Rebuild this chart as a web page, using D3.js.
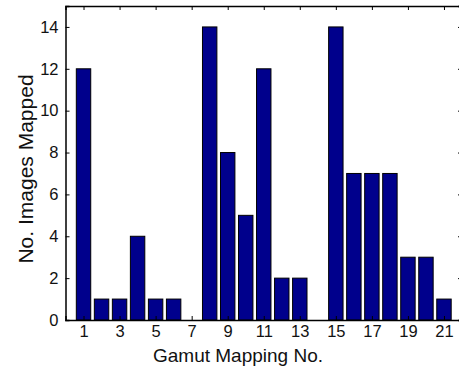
<!DOCTYPE html>
<html lang="en">
<head>
<meta charset="utf-8">
<title>Gamut mapping</title>
<script src="https://cdn.jsdelivr.net/npm/d3@7"></script>
<style>
  body { margin: 0; background: #fff; }
  text { font-family: "Liberation Sans", Arial, sans-serif; fill: #111; }
</style>
</head>
<body>
<div id="chart"></div>
<script>
// data
var mappingNo = d3.range(1, 22);
var imagesMapped = [12, 1, 1, 4, 1, 1, 0, 14, 8, 5, 12, 2, 2, 0, 14, 7, 7, 7, 3, 3, 1];
var xTicks = [1, 3, 5, 7, 9, 11, 13, 15, 17, 19, 21];
var yTicks = [0, 2, 4, 6, 8, 10, 12, 14];

var W = 459, H = 368;
var plot = {left: 65.5, right: 462, top: 6, bottom: 320};

var svg = d3.select("#chart").append("svg")
  .attr("width", W).attr("height", H);

var x = d3.scaleLinear().domain([0, 22]).range([plot.left, plot.right]);
var y = d3.scaleLinear().domain([0, 15]).range([plot.bottom, plot.top]);
var barW = (x(1) - x(0)) * 0.8;

// bars
svg.selectAll("rect.bar")
  .data(imagesMapped)
  .enter().append("rect")
  .attr("class", "bar")
  .attr("x", function(d, i) { return x(mappingNo[i]) - barW / 2; })
  .attr("y", function(d) { return y(d); })
  .attr("width", barW)
  .attr("height", function(d) { return plot.bottom - y(d); })
  .attr("fill", "#00008c")
  .attr("stroke", "#000")
  .attr("stroke-width", 1);

// axes, ticks inward like matlab (box on, right edge falls just off the page)
var xAxis = d3.axisBottom(x).tickValues(xTicks).tickSize(-4).tickPadding(5).tickFormat(d3.format("d"));
var xTop = d3.axisTop(x).tickValues(xTicks).tickSize(-4).tickFormat("");
var yAxis = d3.axisLeft(y).tickValues(yTicks).tickSize(-4).tickPadding(7);
var yRight = d3.axisRight(y).tickValues(yTicks).tickSize(-4).tickFormat("");

var gx = svg.append("g").attr("transform", "translate(0," + plot.bottom + ")").call(xAxis);
var gt = svg.append("g").attr("transform", "translate(0," + plot.top + ")").call(xTop);
var gy = svg.append("g").attr("transform", "translate(" + plot.left + ",0)").call(yAxis);
var gr = svg.append("g").attr("transform", "translate(" + plot.right + ",0)").call(yRight);

[gx, gt, gy, gr].forEach(function(g) {
  g.select(".domain").attr("stroke", "#000").attr("stroke-width", 1.5);
  g.selectAll(".tick line").attr("stroke", "#000");
  g.selectAll(".tick text").style("font-size", "16.5px").attr("fill", "#111");
});

// axis titles
svg.append("text")
  .attr("x", 238).attr("y", 362)
  .attr("text-anchor", "middle")
  .style("font-size", "19px")
  .text("Gamut Mapping No.");

svg.append("text")
  .attr("transform", "translate(33,169) rotate(-90)")
  .attr("text-anchor", "middle")
  .style("font-size", "21px")
  .text("No. Images Mapped");
</script>
</body>
</html>
